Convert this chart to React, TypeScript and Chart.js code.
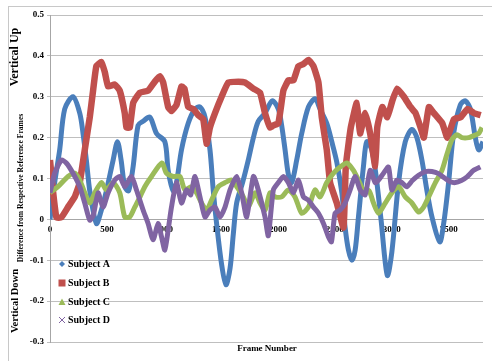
import React, { useEffect, useRef } from "react";
import { Chart, registerables } from "chart.js";

Chart.register(...registerables);

const seriesNames = ["Subject A", "Subject B", "Subject C", "Subject D"];
const seriesColors = ["#4A7EBB", "#C0504D", "#9BBB59", "#8064A2"];

const aFrames = [0, 41, 85, 129, 202, 261, 290, 319, 349, 407, 448, 495, 554, 592, 624, 656, 690, 730, 773, 817, 876, 935, 1008, 1037, 1081, 1110, 1154, 1213, 1272, 1316, 1360, 1404, 1433, 1462, 1506, 1544, 1580, 1609, 1638, 1690, 1740, 1785, 1828, 1887, 1950, 2004, 2033, 2063, 2092, 2121, 2165, 2209, 2268, 2326, 2370, 2429, 2473, 2517, 2561, 2590, 2619, 2649, 2678, 2707, 2751, 2780, 2824, 2860, 2905, 2960, 3000, 3059, 3118, 3176, 3220, 3264, 3308, 3352, 3420, 3455, 3498, 3542, 3601, 3645, 3689, 3733, 3762, 3800];
const aValues = [0, 0.09, 0.17, 0.27, 0.30, 0.26, 0.21, 0.145, 0.07, -0.01, 0.02, 0.07, 0.145, 0.19, 0.145, 0.08, 0.07, 0.13, 0.23, 0.24, 0.25, 0.21, 0.19, 0.12, 0.07, 0.09, 0.17, 0.235, 0.27, 0.275, 0.25, 0.17, 0.07, -0.01, -0.11, -0.16, -0.12, -0.035, 0.04, 0.09, 0.145, 0.20, 0.24, 0.26, 0.29, 0.27, 0.23, 0.17, 0.11, 0.09, 0.145, 0.21, 0.275, 0.295, 0.27, 0.235, 0.19, 0.14, 0.065, -0.02, -0.075, -0.10, -0.075, 0.006, 0.13, 0.19, 0.17, 0.11, 0.0, -0.137, -0.08, 0.09, 0.19, 0.22, 0.20, 0.145, 0.07, 0.006, -0.055, -0.01, 0.09, 0.21, 0.28, 0.29, 0.27, 0.20, 0.17, 0.19];

const bFrames = [0, 26, 56, 100, 158, 217, 261, 305, 349, 378, 407, 451, 481, 510, 568, 612, 656, 671, 700, 730, 788, 861, 920, 964, 993, 1037, 1066, 1110, 1154, 1180, 1213, 1257, 1301, 1345, 1374, 1404, 1448, 1506, 1565, 1653, 1711, 1785, 1843, 1887, 1931, 1960, 2004, 2048, 2092, 2136, 2180, 2224, 2268, 2312, 2356, 2385, 2429, 2458, 2517, 2576, 2596, 2640, 2692, 2721, 2766, 2810, 2854, 2872, 2916, 2960, 3004, 3047, 3106, 3164, 3208, 3252, 3281, 3325, 3369, 3443, 3487, 3545, 3604, 3663, 3721, 3780];
const bValues = [0.145, 0.07, 0.005, 0.005, 0.03, 0.055, 0.09, 0.17, 0.25, 0.315, 0.375, 0.385, 0.36, 0.325, 0.33, 0.315, 0.26, 0.225, 0.225, 0.285, 0.31, 0.315, 0.337, 0.35, 0.335, 0.275, 0.265, 0.28, 0.325, 0.32, 0.275, 0.27, 0.255, 0.245, 0.185, 0.225, 0.26, 0.30, 0.335, 0.337, 0.335, 0.32, 0.31, 0.26, 0.225, 0.23, 0.235, 0.315, 0.34, 0.34, 0.375, 0.38, 0.39, 0.375, 0.335, 0.25, 0.17, 0.09, 0.04, -0.02, 0.13, 0.225, 0.285, 0.21, 0.26, 0.21, 0.13, 0.225, 0.275, 0.25, 0.29, 0.32, 0.30, 0.275, 0.26, 0.225, 0.2, 0.275, 0.26, 0.235, 0.2, 0.245, 0.25, 0.27, 0.26, 0.255];

const cFrames = [0, 70, 158, 217, 261, 305, 349, 393, 451, 495, 554, 612, 656, 700, 744, 790, 832, 891, 982, 1022, 1081, 1140, 1184, 1242, 1286, 1330, 1374, 1418, 1477, 1536, 1594, 1638, 1697, 1740, 1800, 1843, 1887, 1931, 1975, 2033, 2092, 2150, 2209, 2268, 2326, 2370, 2429, 2488, 2546, 2605, 2663, 2707, 2751, 2800, 2839, 2883, 2942, 3000, 3059, 3118, 3176, 3235, 3279, 3323, 3382, 3440, 3484, 3528, 3572, 3616, 3674, 3720, 3762, 3791];
const cValues = [0.065, 0.08, 0.105, 0.113, 0.096, 0.065, 0.04, 0.065, 0.09, 0.072, 0.09, 0.065, 0.006, 0.006, 0.03, 0.055, 0.08, 0.105, 0.138, 0.113, 0.105, 0.105, 0.072, 0.08, 0.065, 0.04, 0.023, 0.047, 0.08, 0.09, 0.096, 0.08, 0.055, 0.03, 0.065, 0.04, 0.023, 0.065, 0.055, 0.055, 0.072, 0.055, 0.015, 0.03, 0.072, 0.055, 0.09, 0.113, 0.128, 0.138, 0.12, 0.096, 0.072, 0.07, 0.04, 0.015, 0.04, 0.065, 0.08, 0.055, 0.04, 0.018, 0.03, 0.055, 0.09, 0.12, 0.16, 0.195, 0.207, 0.20, 0.20, 0.205, 0.21, 0.225];

const dFrames = [0, 41, 100, 143, 202, 261, 305, 349, 380, 422, 466, 510, 568, 612, 656, 715, 759, 817, 861, 905, 949, 979, 1008, 1037, 1066, 1110, 1154, 1198, 1235, 1272, 1316, 1360, 1404, 1448, 1492, 1536, 1580, 1638, 1682, 1726, 1785, 1828, 1887, 1916, 1960, 2004, 2048, 2092, 2136, 2180, 2224, 2268, 2312, 2356, 2400, 2444, 2470, 2502, 2546, 2590, 2634, 2678, 2722, 2766, 2810, 2854, 2883, 2927, 2971, 3000, 3044, 3088, 3132, 3180, 3235, 3294, 3352, 3410, 3469, 3513, 3557, 3610, 3660, 3718, 3777];
const dValues = [0.065, 0.113, 0.145, 0.138, 0.113, 0.08, 0.04, -0.002, 0.01, 0.065, 0.03, 0.065, 0.096, 0.105, 0.08, 0.105, 0.072, 0.023, -0.01, -0.05, -0.01, -0.043, -0.075, -0.026, 0.03, 0.09, 0.04, 0.072, 0.06, 0.105, 0.055, 0.006, 0.023, 0.03, 0.006, 0.03, 0.072, 0.105, 0.065, 0.006, 0.105, 0.072, 0.006, -0.04, 0.072, 0.09, 0.105, 0.09, 0.065, 0.096, 0.055, 0.047, 0.03, 0.015, -0.01, -0.043, -0.055, 0.015, 0.023, 0.04, 0.072, 0.105, 0.072, 0.06, 0.12, 0.09, 0.096, 0.113, 0.128, 0.072, 0.096, 0.09, 0.08, 0.095, 0.108, 0.117, 0.117, 0.112, 0.10, 0.092, 0.09, 0.095, 0.104, 0.12, 0.128];

const xTickValues = [0, 500, 1000, 1500, 2000, 2500, 3000, 3500];
const yMin = -0.3;
const yMax = 0.5;
const yStep = 0.1;
const xMin = 0;
const xMax = 3800;

const SERIF = '"Liberation Serif", "Times New Roman", serif';

function pts(fr: number[], vals: number[]) {
  return fr.map((f, i) => ({ x: f, y: vals[i] }));
}

const decorPlugin = {
  id: "decor",
  beforeDraw(chart: any) {
    const ctx = chart.ctx;
    ctx.save();
    ctx.fillStyle = "#ffffff";
    ctx.fillRect(0, 0, chart.width, chart.height);
    ctx.strokeStyle = "#c8c8c8";
    ctx.lineWidth = 1;
    ctx.strokeRect(8.5, 6.5, 520, 400);
    ctx.restore();
  },
  afterDraw(chart: any) {
    const ctx = chart.ctx;
    ctx.save();
    ctx.fillStyle = "#000";
    ctx.textAlign = "center";
    ctx.textBaseline = "middle";
    const rot = (text: string, x: number, y: number, font: string) => {
      ctx.save();
      ctx.translate(x, y);
      ctx.rotate(-Math.PI / 2);
      ctx.font = font;
      ctx.fillText(text, 0, 0);
      ctx.restore();
    };
    rot("Vertical Up", 15, 57, `bold 12px ${SERIF}`);
    rot("Vertical Down", 15, 301, `bold 10.5px ${SERIF}`);
    rot("Difference from Respective Reference Frames", 21, 188, `bold 7.6px ${SERIF}`);
    ctx.font = `bold 9px ${SERIF}`;
    ctx.fillText("Frame Number", 267, 349);

    // legend
    const rows = [264, 283, 302, 320];
    const mx = 62;
    seriesNames.forEach((name, i) => {
      const y = rows[i];
      const c = seriesColors[i];
      ctx.fillStyle = c;
      ctx.strokeStyle = c;
      if (i === 0) {
        ctx.beginPath();
        ctx.moveTo(mx, y - 3);
        ctx.lineTo(mx + 3, y);
        ctx.lineTo(mx, y + 3);
        ctx.lineTo(mx - 3, y);
        ctx.closePath();
        ctx.fill();
      } else if (i === 1) {
        ctx.fillRect(mx - 3.5, y - 3.5, 7, 7);
      } else if (i === 2) {
        ctx.beginPath();
        ctx.moveTo(mx, y - 3.5);
        ctx.lineTo(mx + 3.5, y + 3);
        ctx.lineTo(mx - 3.5, y + 3);
        ctx.closePath();
        ctx.fill();
      } else {
        ctx.lineWidth = 1;
        ctx.beginPath();
        ctx.moveTo(mx - 3, y - 3);
        ctx.lineTo(mx + 3, y + 3);
        ctx.moveTo(mx + 3, y - 3);
        ctx.lineTo(mx - 3, y + 3);
        ctx.stroke();
      }
      ctx.fillStyle = "#000";
      ctx.textAlign = "left";
      ctx.font = `bold 10px ${SERIF}`;
      ctx.fillText(name, 68, y + 0.5);
    });
    ctx.restore();
  },
};

export default function App() {
  const ref = useRef<HTMLCanvasElement | null>(null);
  useEffect(() => {
    if (!ref.current) return;
    const series = [
      pts(aFrames, aValues),
      pts(bFrames, bValues),
      pts(cFrames, cValues),
      pts(dFrames, dValues),
    ];
    const widths = [5, 6.5, 5, 5];
    const tensions = [0.3, 0.12, 0.25, 0.2];
    const chart = new Chart(ref.current, {
      type: "line",
      data: {
        datasets: series.map((d, i) => ({
          label: seriesNames[i],
          data: d,
          borderColor: seriesColors[i],
          backgroundColor: seriesColors[i],
          borderWidth: widths[i],
          pointRadius: 0,
          tension: tensions[i],
          fill: false,
          order: 4 - i,
        })),
      },
      options: {
        animation: false,
        responsive: false,
        layout: { padding: { left: 0, top: 15, right: 9, bottom: 19 } },
        plugins: {
          legend: { display: false },
          tooltip: { enabled: false },
          title: { display: false },
        },
        scales: {
          x: {
            type: "linear",
            min: xMin,
            max: xMax,
            z: 1,
            position: { y: 0 } as any,
            grid: { display: false, drawTicks: true, tickLength: 2 },
            border: { display: true, color: "#a6a6a6", width: 1 },
            afterBuildTicks: (s: any) => {
              s.ticks = xTickValues.map((v) => ({ value: v }));
            },
            ticks: {
              padding: 3,
              color: "#000",
              font: { family: SERIF, size: 9, weight: "bold" },
              maxRotation: 0,
              minRotation: 0,
              autoSkip: false,
              callback: (v: any) => String(v),
            },
          },
          y: {
            type: "linear",
            min: yMin,
            max: yMax,
            afterFit: (s: any) => {
              s.width = 50;
            },
            grid: { color: "#bfbfbf", lineWidth: 1, tickLength: 3 },
            border: { display: true, color: "#a6a6a6" },
            ticks: {
              stepSize: yStep,
              padding: 3,
              color: "#000",
              font: { family: SERIF, size: 9, weight: "bold" },
              callback: (v: any) => {
                const s = Number(v).toFixed(1);
                return s === "0.0" || s === "-0.0" ? "0" : s;
              },
            },
          },
        },
      },
      plugins: [decorPlugin],
    });
    return () => chart.destroy();
  }, []);
  return (
    <canvas
      ref={ref}
      width={492}
      height={361}
      style={{ position: "absolute", left: 0, top: 0, width: 492, height: 361 }}
    />
  );
}
